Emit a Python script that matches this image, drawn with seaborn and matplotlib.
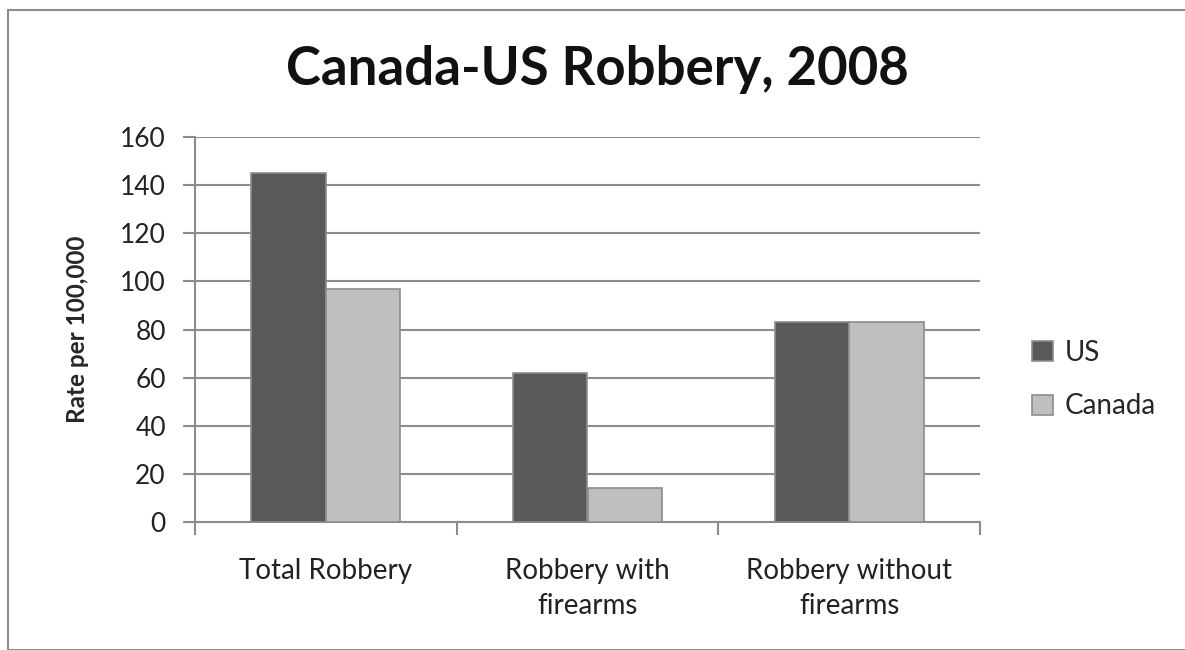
import pandas as pd
import seaborn as sns
import matplotlib.pyplot as plt
from matplotlib.patches import Rectangle

categories = ["Total Robbery", "Robbery with\nfirearms", "Robbery without\nfirearms"]
us_values = [145, 62, 83]
canada_values = [97, 14, 83]
countries = ["US", "Canada"]

df = pd.DataFrame({
    "category": categories * 2,
    "country": ["US"] * 3 + ["Canada"] * 3,
    "rate": us_values + canada_values,
})

sns.set_style("white")
plt.rcParams["font.family"] = ["Lato", "DejaVu Sans"]

fig = plt.figure(figsize=(11.85, 6.5), dpi=100)
ax = fig.add_axes([195 / 1185, 128 / 650, 785 / 1185, 385 / 650])

sns.barplot(data=df, x="category", y="rate", hue="country", hue_order=countries,
            palette={"US": "#595959", "Canada": "#bfbfbf"}, width=0.57,
            edgecolor="#8c8c8c", linewidth=1.2, ax=ax, zorder=3)

ax.set_ylim(0, 160)
ax.set_yticks(range(0, 161, 20))
ax.set_xlim(-0.5, 2.5)
ax.yaxis.grid(True, color="#8c8c8c", linewidth=1.5, zorder=0)
ax.set_axisbelow(True)

for s in ["top", "right"]:
    ax.spines[s].set_visible(False)
for s in ["left", "bottom"]:
    ax.spines[s].set_color("#8c8c8c")
    ax.spines[s].set_linewidth(1.5)

# x ticks at category boundaries, labels in the middle
ax.set_xticks([-0.5, 0.5, 1.5, 2.5])
ax.set_xticklabels([])
ax.set_xticks([0, 1, 2], minor=True)
ax.set_xticklabels(categories, minor=True, fontsize=20, color="#222222", linespacing=1.4)
ax.tick_params(axis="x", which="major", direction="out", length=9, width=1.5, color="#8c8c8c", bottom=True)
ax.tick_params(axis="x", which="minor", length=0, pad=26)
ax.tick_params(axis="y", direction="out", length=9, width=1.5, color="#8c8c8c", left=True,
               labelsize=19, labelcolor="#222222", pad=12)

ax.set_xlabel("")
ax.set_ylabel("Rate per 100,000", fontsize=17.5, fontweight="bold", labelpad=22)
fig.text(597 / 1185, 1 - 70 / 650, "Canada-US Robbery, 2008", ha="center", va="center",
         fontsize=38, fontweight="bold", color="#111111")

ax.legend(loc="center left", bbox_to_anchor=(1.035, 0.37), frameon=False, fontsize=20,
          handlelength=0.75, handleheight=0.75, labelspacing=1.0, handletextpad=0.4)

# outer chart frame
fig.patches.append(Rectangle((8 / 1185, 0.0), 1.2, 1 - 10 / 650, transform=fig.transFigure,
                             fill=False, edgecolor="#8c8c8c", linewidth=1.5))

fig.savefig("out.png", dpi=100, facecolor="white")
